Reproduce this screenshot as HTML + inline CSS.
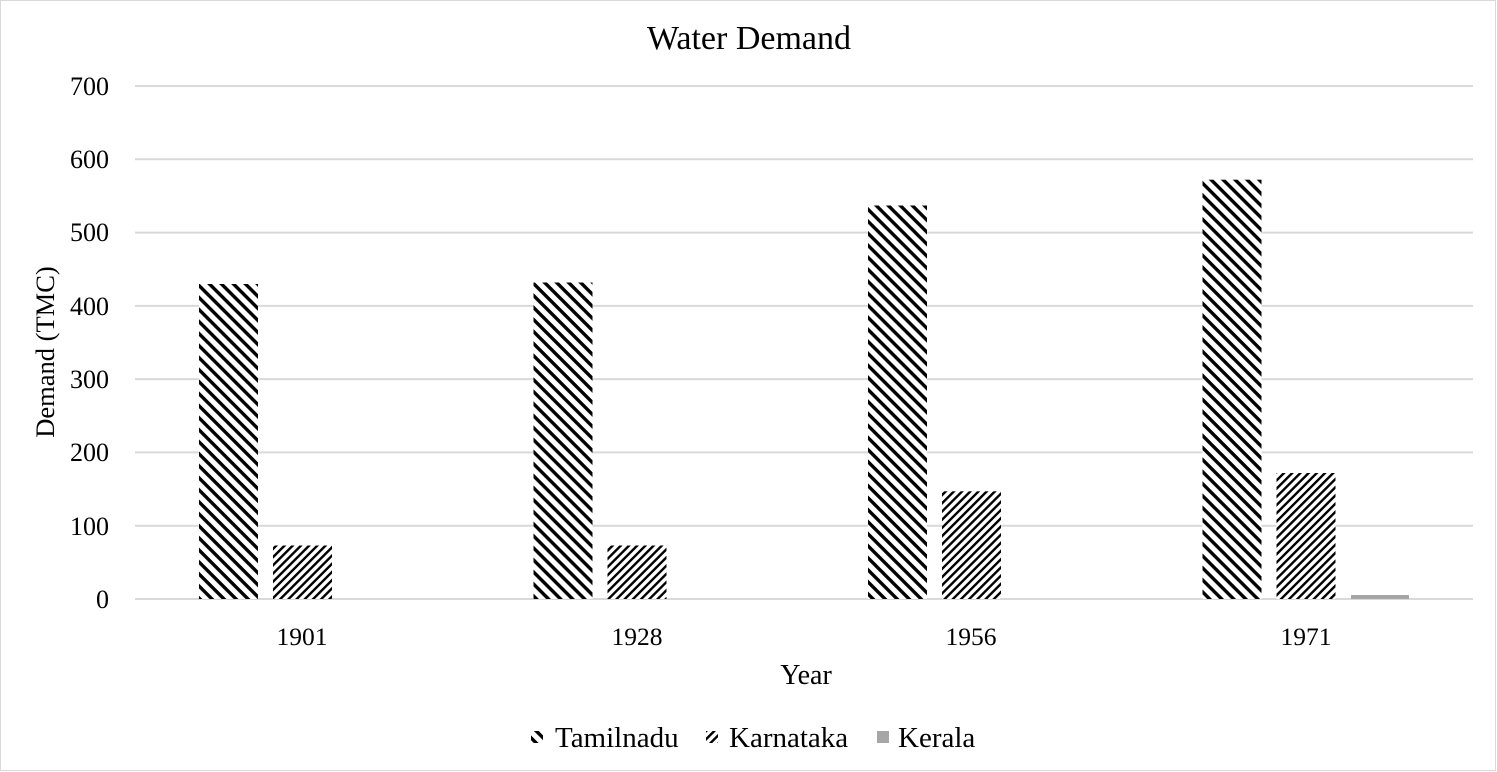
<!DOCTYPE html>
<html><head><meta charset="utf-8"><style>
html,body{margin:0;padding:0;background:#fff;}
svg{display:block;font-family:"Liberation Serif",serif;}
</style></head><body>
<svg width="1497" height="772" viewBox="0 0 1497 772" xmlns="http://www.w3.org/2000/svg">
<defs>
<pattern id="tn" patternUnits="userSpaceOnUse" width="8.5" height="8.5" patternTransform="rotate(45)">
<rect x="0" y="0" width="8.5" height="8.5" fill="#fff"/><rect x="0" y="0" width="8.5" height="3.4" fill="#000"/>
</pattern>
<pattern id="ka" patternUnits="userSpaceOnUse" width="5.8" height="5.8" patternTransform="rotate(-45)">
<rect x="0" y="0" width="5.8" height="5.8" fill="#fff"/><rect x="0" y="0" width="5.8" height="2.4" fill="#000"/>
</pattern>
</defs>
<rect x="0.5" y="0.5" width="1495" height="770" fill="#fff" stroke="#d9d9d9"/>
<text x="749" y="49" font-size="34" text-anchor="middle">Water Demand</text>
<g stroke="#d9d9d9" stroke-width="2">
<line x1="135" x2="1473" y1="86" y2="86"/><line x1="135" x2="1473" y1="159.3" y2="159.3"/>
<line x1="135" x2="1473" y1="232.6" y2="232.6"/><line x1="135" x2="1473" y1="305.9" y2="305.9"/>
<line x1="135" x2="1473" y1="379.1" y2="379.1"/><line x1="135" x2="1473" y1="452.4" y2="452.4"/>
<line x1="135" x2="1473" y1="525.7" y2="525.7"/><line x1="135" x2="1473" y1="599" y2="599"/>
</g>
<g font-size="26" text-anchor="end">
<text x="109" y="95">700</text><text x="109" y="168">600</text><text x="109" y="241">500</text>
<text x="109" y="315">400</text><text x="109" y="388">300</text><text x="109" y="461">200</text>
<text x="109" y="535">100</text><text x="109" y="608">0</text>
</g>
<text transform="translate(54,352) rotate(-90)" font-size="26.5" text-anchor="middle">Demand (TMC)</text>
<g>
<rect x="199" y="284" width="59" height="315" fill="url(#tn)"/>
<rect x="273" y="545.5" width="59" height="53.5" fill="url(#ka)"/>
<rect x="533.5" y="282.5" width="59" height="316.5" fill="url(#tn)"/>
<rect x="607.5" y="545.5" width="59" height="53.5" fill="url(#ka)"/>
<rect x="868" y="205.5" width="59" height="393.5" fill="url(#tn)"/>
<rect x="942" y="491.3" width="59" height="107.7" fill="url(#ka)"/>
<rect x="1202.5" y="179.7" width="59" height="419.3" fill="url(#tn)"/>
<rect x="1276.5" y="473" width="59" height="126" fill="url(#ka)"/>
<rect x="1351" y="595" width="58" height="4" fill="#a6a6a6"/>
</g>
<g font-size="25.5" text-anchor="middle">
<text x="302" y="645">1901</text><text x="637" y="645">1928</text>
<text x="971" y="645">1956</text><text x="1306" y="645">1971</text>
</g>
<text x="806" y="684" font-size="28" text-anchor="middle">Year</text>
<rect x="531" y="731" width="12" height="12" fill="url(#tn)"/>
<text x="555" y="747" font-size="29">Tamilnadu</text>
<rect x="706" y="731" width="12" height="12" fill="url(#ka)"/>
<text x="729" y="747" font-size="29">Karnataka</text>
<rect x="877" y="731" width="12" height="12" fill="#a6a6a6"/>
<text x="898" y="747" font-size="29">Kerala</text>
</svg>
</body></html>
